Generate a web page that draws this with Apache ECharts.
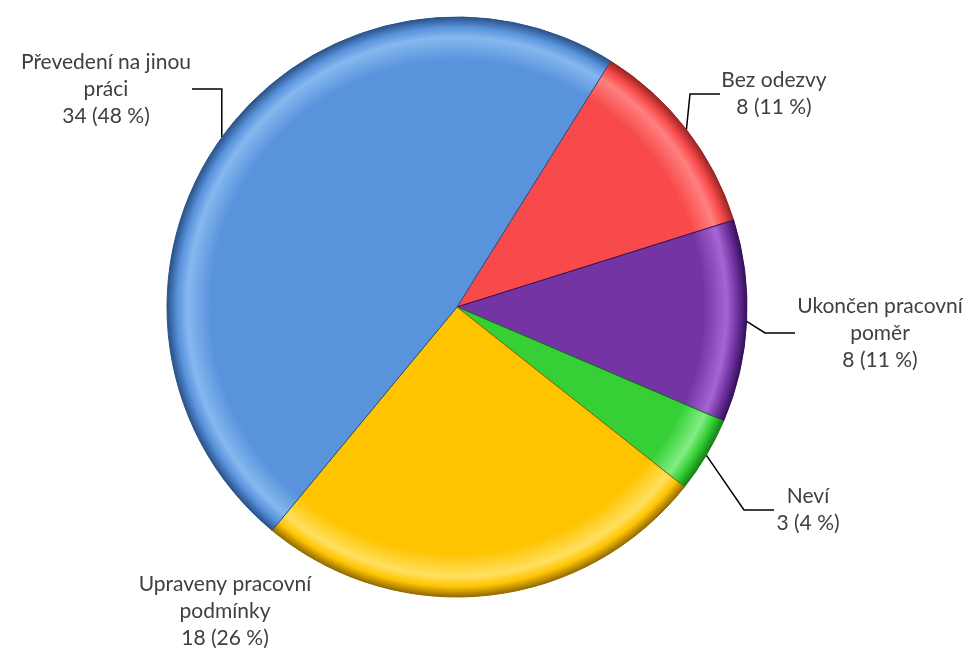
<!DOCTYPE html>
<html>
<head>
<meta charset="utf-8">
<script src="https://cdn.jsdelivr.net/npm/echarts@6/dist/echarts.min.js"></script>
<style>
  html, body { margin: 0; padding: 0; background: #fff; }
  #chart { width: 977px; height: 652px; }
</style>
</head>
<body>
<div id="chart"></div>
<script>
// Categories in clockwise order, starting at the upper right
const categories = ['Bez odezvy', 'Ukončen pracovní poměr', 'Neví', 'Upraveny pracovní podmínky', 'Převedení na jinou práci'];
const labelNames = ['Bez odezvy', 'Ukončen pracovní\npoměr', 'Neví', 'Upraveny pracovní\npodmínky', 'Převedení na jinou\npráci'];
const counts = [8, 8, 3, 18, 34];
const percents = [11, 11, 4, 26, 48];

const baseColors = ['#f84a4a', '#7434a4', '#36d036', '#ffc400', '#5893dc'];
const lightColors = ['#ff8080', '#a466d2', '#84ec84', '#ffe060', '#86b8f0'];
const darkColors = ['#9a2424', '#34105a', '#168016', '#946a00', '#2a5288'];

const CX = 457, CY = 307, R = 290;

// label block centres and box widths
const labelPos = [
  [774, 94], [880, 333], [808, 510], [225, 611], [106, 89]
];
const labelWidths = [108, 170, 68, 176, 172];

function bevel(i) {
  return new echarts.graphic.RadialGradient(CX, CY, R, [
    { offset: 0, color: baseColors[i] },
    { offset: 0.85, color: baseColors[i] },
    { offset: 0.93, color: lightColors[i] },
    { offset: 0.965, color: baseColors[i] },
    { offset: 1, color: darkColors[i] }
  ], true);
}

const chart = echarts.init(document.getElementById('chart'));
chart.setOption({
  animation: false,
  backgroundColor: '#ffffff',
  series: [{
    type: 'pie',
    center: [CX, CY],
    radius: [0, R],
    startAngle: 58,
    clockwise: true,
    data: categories.map((name, i) => ({
      name: name,
      value: counts[i],
      itemStyle: { color: bevel(i), borderColor: darkColors[i], borderWidth: 1 },
      label: { width: labelWidths[i] },
      labelLine: { show: i !== 3 }
    })),
    label: {
      show: true,
      position: 'outside',
      color: '#404040',
      fontFamily: 'Lato',
      fontSize: 21,
      lineHeight: 27,
      align: 'center',
      overflow: 'none',
      formatter: p => labelNames[p.dataIndex] + '\n' + counts[p.dataIndex] + ' (' + percents[p.dataIndex] + ' %)'
    },
    labelLine: {
      show: true,
      lineStyle: { color: '#000', width: 1.5 }
    },
    labelLayout: p => ({
      x: labelPos[p.dataIndex][0],
      y: labelPos[p.dataIndex][1],
      align: 'center',
      verticalAlign: 'middle'
    })
  }]
});
</script>
</body>
</html>
